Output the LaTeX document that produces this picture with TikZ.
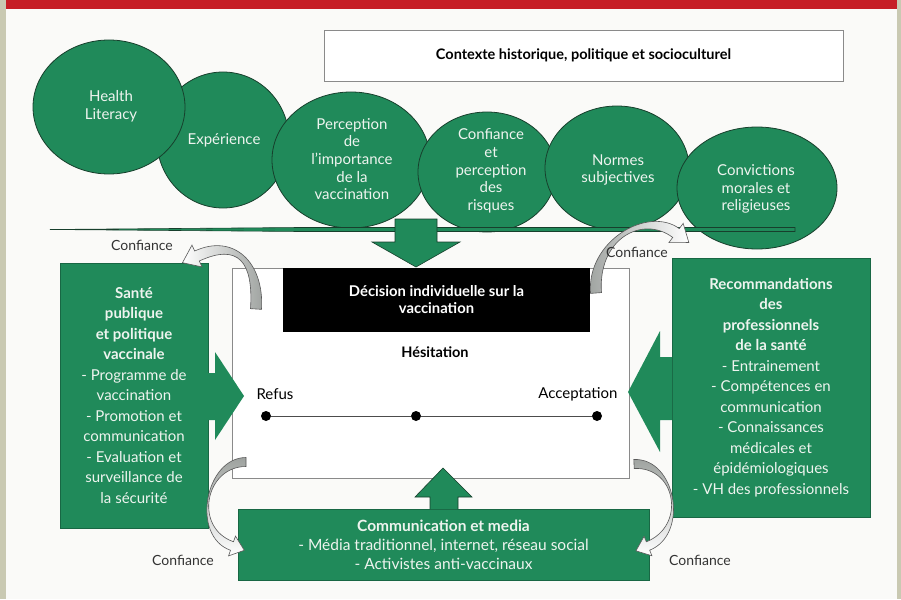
\documentclass[tikz,border=0pt]{standalone}
\usepackage{fontspec}
\setmainfont{Lato}
\usetikzlibrary{calc}
\definecolor{vg}{HTML}{208A5A}
\definecolor{vgd}{HTML}{173F2C}
\definecolor{wt}{HTML}{EEF4EF}
\definecolor{bgc}{HTML}{FAFAF8}
\definecolor{brd}{HTML}{C9C9B2}
\definecolor{redc}{HTML}{C61E26}
\definecolor{agray}{HTML}{9EA29F}
\definecolor{lgray}{HTML}{8A8A8A}
\tikzset{
  ctext/.style={inner sep=0pt, align=center, text=wt, font=\fontsize{15}{17.7}\selectfont},
  circ/.style={fill=vg, draw=vgd, line width=0.8pt},
  gbox/.style={fill=vg, draw=vg!75!black, line width=0.5pt, inner sep=0pt, align=center, text=wt, font=\fontsize{15}{20.5}\selectfont},
  garrow/.style={fill=vg},
  garrowo/.style={fill=vg, draw=vgd, line width=0.6pt},
  btext/.style={inner sep=0pt, align=center, font=\fontsize{14.5}{17}\selectfont\bfseries},
  ntext/.style={inner sep=0pt, align=center, font=\fontsize{15}{17}\selectfont},
  conf/.style={inner sep=0pt, text=black!80, font=\fontsize{14}{17}\selectfont},
  dot/.style={circle, fill=black, inner sep=0pt, minimum size=10pt},
  cvline/.style={draw=black!65, line width=0.6pt},
}
\def\aw{5.5pt}\def\ah{12pt}\def\al{16pt}
\newcommand\cvarrow[6]{%
  \coordinate (#6p0) at (#1); \coordinate (#6p1) at (#2);
  \coordinate (#6p2) at (#3); \coordinate (#6p3) at (#4);
  \coordinate (#6o0) at ($(#6p0)!\aw!90:(#6p1)$);
  \coordinate (#6i0) at ($(#6p0)!\aw!-90:(#6p1)$);
  \coordinate (#6o1) at ($(#6p1)+(#6o0)-(#6p0)$);
  \coordinate (#6i1) at ($(#6p1)+(#6i0)-(#6p0)$);
  \coordinate (#6o3) at ($(#6p3)!\aw!-90:(#6p2)$);
  \coordinate (#6i3) at ($(#6p3)!\aw!90:(#6p2)$);
  \coordinate (#6o2) at ($(#6p2)+(#6o3)-(#6p3)$);
  \coordinate (#6i2) at ($(#6p2)+(#6i3)-(#6p3)$);
  \coordinate (#6bo) at ($(#6p3)!\ah!-90:(#6p2)$);
  \coordinate (#6bi) at ($(#6p3)!\ah!90:(#6p2)$);
  \coordinate (#6t) at ($(#6p3)!\al!180:(#6p2)$);
  \draw[cvline, #5] (#6o0) .. controls (#6o1) and (#6o2) .. (#6o3) -- (#6bo) -- (#6t) -- (#6bi) -- (#6i3) .. controls (#6i2) and (#6i1) .. (#6i0) -- cycle;
}
\begin{document}
\begin{tikzpicture}[x=1pt,y=-1pt]
\useasboundingbox (0,0) rectangle (901,599);
\fill[brd] (0,0) rectangle (901,599);
\fill[bgc] (6,0) rectangle (897,599);
\fill[redc] (6,0) rectangle (897,9);

% context box
\node[draw=lgray, line width=0.9pt, fill=white, minimum width=519pt, minimum height=51pt, inner sep=0pt,
      font=\fontsize{14.5}{17}\selectfont\bfseries] (ctx) at (583.5,55.5) {Contexte historique, politique et socioculturel};

% circles
\draw[circ] (223,140) ellipse [x radius=66pt, y radius=68pt];
\draw[circ] (109,107) ellipse [x radius=76pt, y radius=67pt];
\draw[circ] (351,160) ellipse [x radius=79pt, y radius=68pt];
\draw[circ] (487,172) ellipse [x radius=69pt, y radius=60pt];
\draw[circ] (617,168) ellipse [x radius=72pt, y radius=62pt];
\draw[circ] (757,188) ellipse [x radius=80pt, y radius=61pt];
\node[ctext] (t1) at (111,106) {Health\\Literacy};
\node[ctext] (t2) at (224,140) {Expérience};
\node[ctext] (t3) at (352,159) {Perception\\de\\l'importance\\de la\\vaccination};
\node[ctext] (t4) at (491,171) {Confiance\\et\\perception\\des\\risques};
\node[ctext] (t5) at (618,170) {Normes\\subjectives};
\node[ctext] (t6) at (756,189) {Convictions\\morales et\\religieuses};

% band line
\draw[draw=vgd, fill=vg, line width=0.6pt] (50,229.5) -- (300,227.5) -- (795,227.5) -- (795,231.5) -- (300,231.5) -- cycle;

% down arrow
\draw[garrowo] (395,219) -- (437,219) -- (437,242) -- (460,242) -- (416,267) -- (372,242) -- (395,242) -- cycle;

% main box
\node[draw=lgray, line width=0.8pt, fill=white, minimum width=397pt, minimum height=210pt, inner sep=0pt] (mb) at (430.5,373) {};
\node[fill=black, minimum width=307pt, minimum height=64pt, inner sep=0pt, text=white, align=center,
      font=\fontsize{14.8}{17}\selectfont\bfseries] (dec) at (436.5,300) {Décision individuelle sur la\\vaccination};
\node[btext] (hes) at (435,352) {Hésitation};
\node[ntext] (refus) at (275,394) {Refus};
\node[ntext] (acc) at (578,394) {Acceptation};
\node[dot] (d1) at (266,416) {};
\node[dot] (d2) at (416,416) {};
\node[dot] (d3) at (597,416) {};
\draw[black!70, line width=0.8pt] (d1) -- (d2) -- (d3);

% left box
\node[gbox, minimum width=148pt, minimum height=265pt] (sp) at (134,395.5)
 {\textbf{Santé}\\\textbf{publique}\\\textbf{et politique}\\\textbf{vaccinale}\\- Programme de\\vaccination\\- Promotion et\\communication\\- Evaluation et\\surveillance de\\la sécurité};
\fill[garrow] (207,373) -- (215,373) -- (215,352) -- (244,396) -- (215,440) -- (215,420) -- (207,420) -- cycle;

% right box
\node[gbox, minimum width=198pt, minimum height=259pt] (rp) at (771,387.5)
 {\textbf{Recommandations}\\\textbf{des}\\\textbf{professionnels}\\\textbf{de la santé}\\- Entrainement\\- Compétences en\\communication\\- Connaissances\\médicales et\\épidémiologiques\\- VH des professionnels};
\fill[garrow] (672,357) -- (660,357) -- (660,331) -- (628,392) -- (660,452) -- (660,420) -- (672,420) -- cycle;

% bottom box
\node[gbox, minimum width=411pt, minimum height=71pt, font=\fontsize{15.5}{19}\selectfont] (cm) at (443.5,544.5)
 {\textbf{Communication et media}\\- Média traditionnel, internet, réseau social\\- Activistes anti-vaccinaux};
\draw[garrowo] (430,509) -- (430,497) -- (415,497) -- (443,468) -- (472,497) -- (458,497) -- (458,509);

% curved "Confiance" arrows
\cvarrow{256,309}{259,262}{236,238}{197,256}{left color=white, right color=agray}{ca}
\cvarrow{596,293}{592,240}{645,210}{676,233}{left color=agray, right color=white}{cb}
\def\aw{4.5pt}\def\ah{10.5pt}\def\al{13pt}
\cvarrow{246,462}{205,462}{192,532}{232,546}{top color=agray, bottom color=white}{cc}
\cvarrow{634,464}{676,462}{688,530}{648,546}{top color=agray, bottom color=white}{cd}

\node[conf] (l1) at (142,245) {Confiance};
\node[conf] (l2) at (637,252) {Confiance};
\node[conf] (l3) at (183,560) {Confiance};
\node[conf] (l4) at (700,560) {Confiance};
\end{tikzpicture}
\end{document}
